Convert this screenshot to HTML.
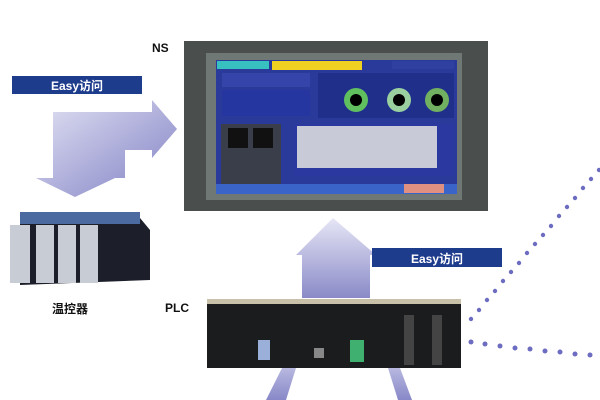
<!DOCTYPE html>
<html><head><meta charset="utf-8"><style>
html,body{margin:0;padding:0;background:#fff;}
svg{display:block}
text{font-family:"Liberation Sans","Noto Sans CJK SC",sans-serif;font-weight:bold}
</style></head><body>
<svg width="600" height="400" viewBox="0 0 600 400" xmlns="http://www.w3.org/2000/svg">
<defs>
<linearGradient id="ga" x1="0" y1="0" x2="1" y2="1">
<stop offset="0" stop-color="#e2e2f4"/><stop offset="1" stop-color="#8080c4"/></linearGradient>
<linearGradient id="gu" x1="0" y1="0" x2="0" y2="1">
<stop offset="0" stop-color="#e6e6f6"/><stop offset="1" stop-color="#8a8ac8"/></linearGradient>
<linearGradient id="gd" x1="0" y1="0" x2="0" y2="1">
<stop offset="0" stop-color="#b8b8e0"/><stop offset="1" stop-color="#8888c8"/></linearGradient>
</defs>
<path d="M53,112 L152,112 L152,100 L177,129 L152,158 L152,150 L125,150 L125,178 L115,178 L75,197 L36,178 L53,178 Z" fill="url(#ga)"/>
<path d="M333,218 L376,255 L370,255 L370,298 L302,298 L302,255 L296,255 Z" fill="url(#gu)"/>
<path d="M266,400 L282,368 L296,368 L286,400 Z" fill="url(#gd)"/>
<path d="M388,368 L400,368 L412,400 L398,400 Z" fill="url(#gd)"/>
<rect x="12" y="76" width="130" height="18" fill="#1e3c8c"/>
<text x="77" y="90" fill="#fff" font-size="12" text-anchor="middle">Easy访问</text>
<rect x="372" y="248" width="130" height="19" fill="#1e3c8c"/>
<text x="437" y="263" fill="#fff" font-size="12" text-anchor="middle">Easy访问</text>
<text x="152" y="52" font-size="12" fill="#111">NS</text>
<text x="165" y="312" font-size="12" fill="#111">PLC</text>
<text x="52" y="313" font-size="12" fill="#111">温控器</text>
<rect x="184" y="41" width="304" height="170" fill="#4a4e4c"/>
<rect x="206" y="53" width="256" height="147" fill="#707876"/>
<rect x="216" y="60" width="241" height="134" fill="#2a3a9a"/>
<rect x="217" y="61" width="52" height="8" fill="#38c0c0"/>
<rect x="272" y="61" width="90" height="9" fill="#f0d020"/>
<rect x="392" y="61" width="62" height="8" fill="#3040a0"/>
<rect x="222" y="73" width="88" height="14" fill="#3444a8"/>
<rect x="222" y="90" width="88" height="26" fill="#2636a0"/>
<rect x="318" y="73" width="136" height="45" fill="#20308a"/>
<circle cx="356" cy="100" r="12" fill="#60c060"/><circle cx="356" cy="100" r="6" fill="#000"/>
<circle cx="399" cy="100" r="12" fill="#9ad0a0"/><circle cx="399" cy="100" r="6" fill="#000"/>
<circle cx="437" cy="100" r="12" fill="#70b060"/><circle cx="437" cy="100" r="6" fill="#000"/>
<rect x="221" y="124" width="60" height="60" fill="#3a3e4a"/>
<rect x="228" y="128" width="20" height="20" fill="#111"/><rect x="253" y="128" width="20" height="20" fill="#111"/>
<rect x="294" y="124" width="160" height="52" fill="#2a38a0"/>
<rect x="297" y="126" width="140" height="42" fill="#c8cad8"/>
<rect x="216" y="184" width="241" height="10" fill="#3a64c8"/>
<rect x="404" y="184" width="40" height="9" fill="#e09080"/>
<path d="M20,218 L140,218 L150,230 L150,280 L20,285 Z" fill="#1c1f2a"/>
<rect x="20" y="212" width="120" height="12" fill="#4a6aa0"/>
<rect x="10" y="225" width="20" height="58" fill="#c8ccd4"/>
<rect x="36" y="225" width="18" height="58" fill="#c8ccd4"/>
<rect x="58" y="225" width="18" height="58" fill="#c8ccd4"/>
<rect x="80" y="225" width="18" height="58" fill="#c8ccd4"/>
<rect x="207" y="299" width="254" height="69" fill="#1a1c1e"/>
<rect x="207" y="299" width="254" height="5" fill="#c8c0a8"/>
<rect x="258" y="340" width="12" height="20" fill="#9ab0d8"/>
<rect x="350" y="340" width="14" height="22" fill="#40b070"/>
<rect x="314" y="348" width="10" height="10" fill="#888"/>
<rect x="404" y="315" width="10" height="50" fill="#444"/>
<rect x="432" y="315" width="10" height="50" fill="#444"/>
<g fill="#6c6cc0">
<circle cx="471" cy="319" r="2.2"/><circle cx="479" cy="310" r="2.2"/><circle cx="487" cy="300" r="2.2"/><circle cx="495" cy="291" r="2.2"/><circle cx="503" cy="281" r="2.2"/><circle cx="511" cy="272" r="2.2"/><circle cx="519" cy="263" r="2.2"/><circle cx="527" cy="253" r="2.2"/><circle cx="535" cy="244" r="2.2"/><circle cx="543" cy="235" r="2.2"/><circle cx="551" cy="226" r="2.2"/><circle cx="559" cy="216" r="2.2"/><circle cx="567" cy="207" r="2.2"/><circle cx="575" cy="198" r="2.2"/><circle cx="583" cy="188" r="2.2"/><circle cx="591" cy="179" r="2.2"/><circle cx="599" cy="170" r="2.2"/>
<circle cx="471" cy="342" r="2.5"/><circle cx="485" cy="344" r="2.5"/><circle cx="500" cy="346" r="2.5"/><circle cx="515" cy="348" r="2.5"/><circle cx="530" cy="349" r="2.5"/><circle cx="545" cy="351" r="2.5"/><circle cx="560" cy="352" r="2.5"/><circle cx="575" cy="354" r="2.5"/><circle cx="590" cy="355" r="2.5"/>
</g>
</svg>
</body></html>
